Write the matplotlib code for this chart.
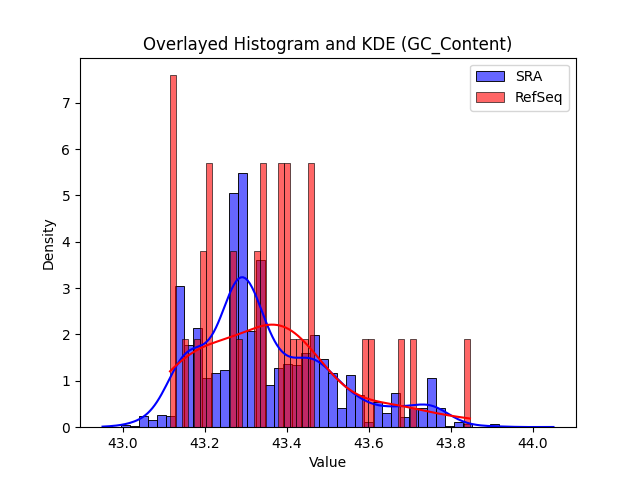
import numpy as np
import matplotlib
matplotlib.use("Agg")
import matplotlib.pyplot as plt
import seaborn as sns

# SRA: 50 bins between the data min and max, density read per bin
sra_min, sra_max = 42.95, 44.05
sra_n = 2250
sra_density = [
    0.02, 0.00, 0.04, 0.02, 0.24, 0.16, 0.27, 0.24, 3.02, 1.75,
    2.13, 1.05, 1.16, 1.22, 4.98, 5.41, 2.06, 3.58, 0.91, 1.25,
    1.36, 1.33, 1.58, 1.96, 1.46, 1.16, 0.40, 1.12, 0.68, 0.10,
    0.55, 0.30, 0.73, 0.22, 0.40, 0.40, 1.05, 0.40, 0.02, 0.10,
    0.07, 0.00, 0.00, 0.06, 0.00, 0.00, 0.00, 0.00, 0.00, 0.02,
]

# RefSeq: 50 bins between the data min and max, counts per bin (36 records)
ref_min, ref_max = 43.1146, 43.8463
ref_counts = [
    4, 0, 1, 0, 1, 2, 3, 0, 0, 0,
    2, 1, 0, 0, 2, 3, 0, 0, 3, 3,
    1, 1, 1, 3, 0, 0, 0, 0, 0, 0,
    0, 0, 1, 1, 0, 0, 0, 0, 1, 0,
    1, 0, 0, 0, 0, 0, 0, 0, 0, 1,
]


def rebuild(lo, hi, counts):
    edges = np.linspace(lo, hi, len(counts) + 1)
    centers = (edges[:-1] + edges[1:]) / 2
    vals = np.repeat(centers, counts)
    # the extreme records sit on the range ends
    vals[0], vals[-1] = lo, hi
    return vals


sra_width = (sra_max - sra_min) / len(sra_density)
sra_counts = np.rint(np.array(sra_density) * sra_n * sra_width).astype(int)
sra = rebuild(sra_min, sra_max, sra_counts)
refseq = rebuild(ref_min, ref_max, ref_counts)

fig, ax = plt.subplots(figsize=(6.4, 4.8), dpi=100)
# binned records are tighter than the raw ones, widen the SRA kernel a bit
sns.histplot(sra, bins=50, stat="density", kde=True, color="blue", alpha=0.6,
             label="SRA", kde_kws={"bw_adjust": 1.18}, ax=ax)
sns.histplot(refseq, bins=50, stat="density", kde=True, color="red", alpha=0.6,
             label="RefSeq", ax=ax)
ax.set_title("Overlayed Histogram and KDE (GC_Content)")
ax.set_xlabel("Value")
ax.set_ylabel("Density")
ax.legend()
fig.savefig("out.png", dpi=100)
